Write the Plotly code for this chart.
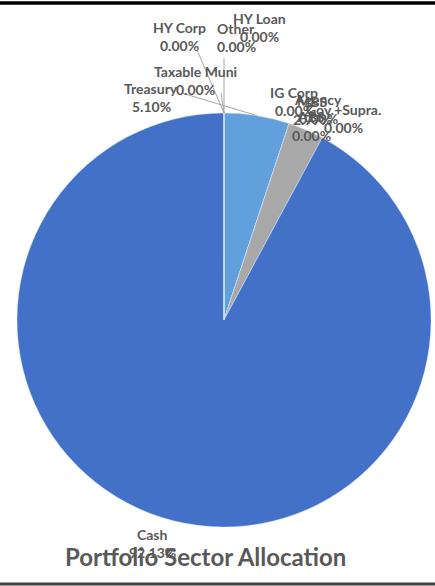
import math
import plotly.graph_objects as go

# ---- data ----
sectors = ["Treasury", "IG Corp", "Agency", "Gov.+Supra.", "MBS", "ABS", "Cash",
           "Taxable Muni", "HY Corp", "Other", "HY Loan"]
weights = [5.10, 0.00, 0.00, 0.00, 2.77, 0.00, 92.13, 0.00, 0.00, 0.00, 0.00]
colors = ["#62A0DD", "#7EA7D8", "#A9A9A9", "#8FA9CF", "#A8A8A8", "#9DB3D6", "#4371C7",
          "#5B9BD5", "#A5A5A5", "#FFC000", "#70AD47"]
title_text = "Portfolio Sector Allocation"

# ---- layout constants (pixels) ----
W, H = 435, 586
CX, CY, R = 224, 320, 207

# label block centres (px) for each sector
label_pos = {
    "Treasury": (151, 97), "IG Corp": (294, 101), "Agency": (318, 109),
    "Gov.+Supra.": (343, 118), "MBS": (312, 110), "ABS": (311, 126),
    "Cash": (152, 543), "Taxable Muni": (195, 80), "HY Corp": (179, 36),
    "Other": (236, 38), "HY Loan": (259, 27),
}
# start points of leader lines (px)
leader_start = {"Treasury": (182, 93), "HY Corp": (197, 50),
                "Other": (224, 58), "Taxable Muni": (221, 93)}

def px2paper(x, y):
    return x / W, 1 - y / H

fig = go.Figure()
fig.add_trace(go.Pie(
    labels=sectors, values=weights, sort=False, direction="clockwise",
    rotation=0, textinfo="none", hoverinfo="label+percent",
    marker=dict(colors=colors, line=dict(color="rgba(210,225,245,0.6)", width=0.7)),
    domain=dict(x=[(CX - R) / W, (CX + R) / W], y=[(H - CY - R) / H, (H - CY + R) / H]),
    showlegend=False,
))

total = sum(weights)
cum = 0.0
annotations, shapes = [], []
for name, v in zip(sectors, weights):
    mid = (cum + v / 2) / total
    cum += v
    ang = math.radians(90 - 360 * mid)
    ex, ey = CX + R * math.cos(ang), CY - R * math.sin(ang)
    lx, ly = label_pos[name]
    for txt, dy in ((name, -9), (f"{v:.2f}%", 9)):
        px, py = px2paper(lx, ly + dy)
        annotations.append(dict(x=px, y=py, xref="paper", yref="paper", text=txt,
                                showarrow=False, xanchor="center", yanchor="middle",
                                font=dict(family="Lato", size=14, color="#595959",
                                          weight="bold")))
    if name in leader_start:
        sx, sy = leader_start[name]
        x0, y0 = px2paper(sx, sy)
        x1, y1 = px2paper(ex, ey)
        shapes.append(dict(type="line", xref="paper", yref="paper", x0=x0, y0=y0,
                           x1=x1, y1=y1, line=dict(color="#A6A6A6", width=1)))

tx, ty = px2paper(205, 556)
annotations.append(dict(x=tx, y=ty, xref="paper", yref="paper", text=title_text,
                        showarrow=False, xanchor="center", yanchor="middle",
                        font=dict(family="Lato", size=24, color="#595959", weight="bold")))

# frame lines
shapes.append(dict(type="line", xref="paper", yref="paper", x0=0, x1=1,
                   y0=1 - 3 / H, y1=1 - 3 / H, line=dict(color="#000000", width=3.5)))
shapes.append(dict(type="line", xref="paper", yref="paper", x0=0, x1=1,
                   y0=1 - 584 / H, y1=1 - 584 / H, line=dict(color="#3F3F3F", width=3)))

fig.update_layout(width=W, height=H, margin=dict(l=0, r=0, t=0, b=0),
                  paper_bgcolor="white", plot_bgcolor="white",
                  annotations=annotations, shapes=shapes)
fig.write_html("out.html")
